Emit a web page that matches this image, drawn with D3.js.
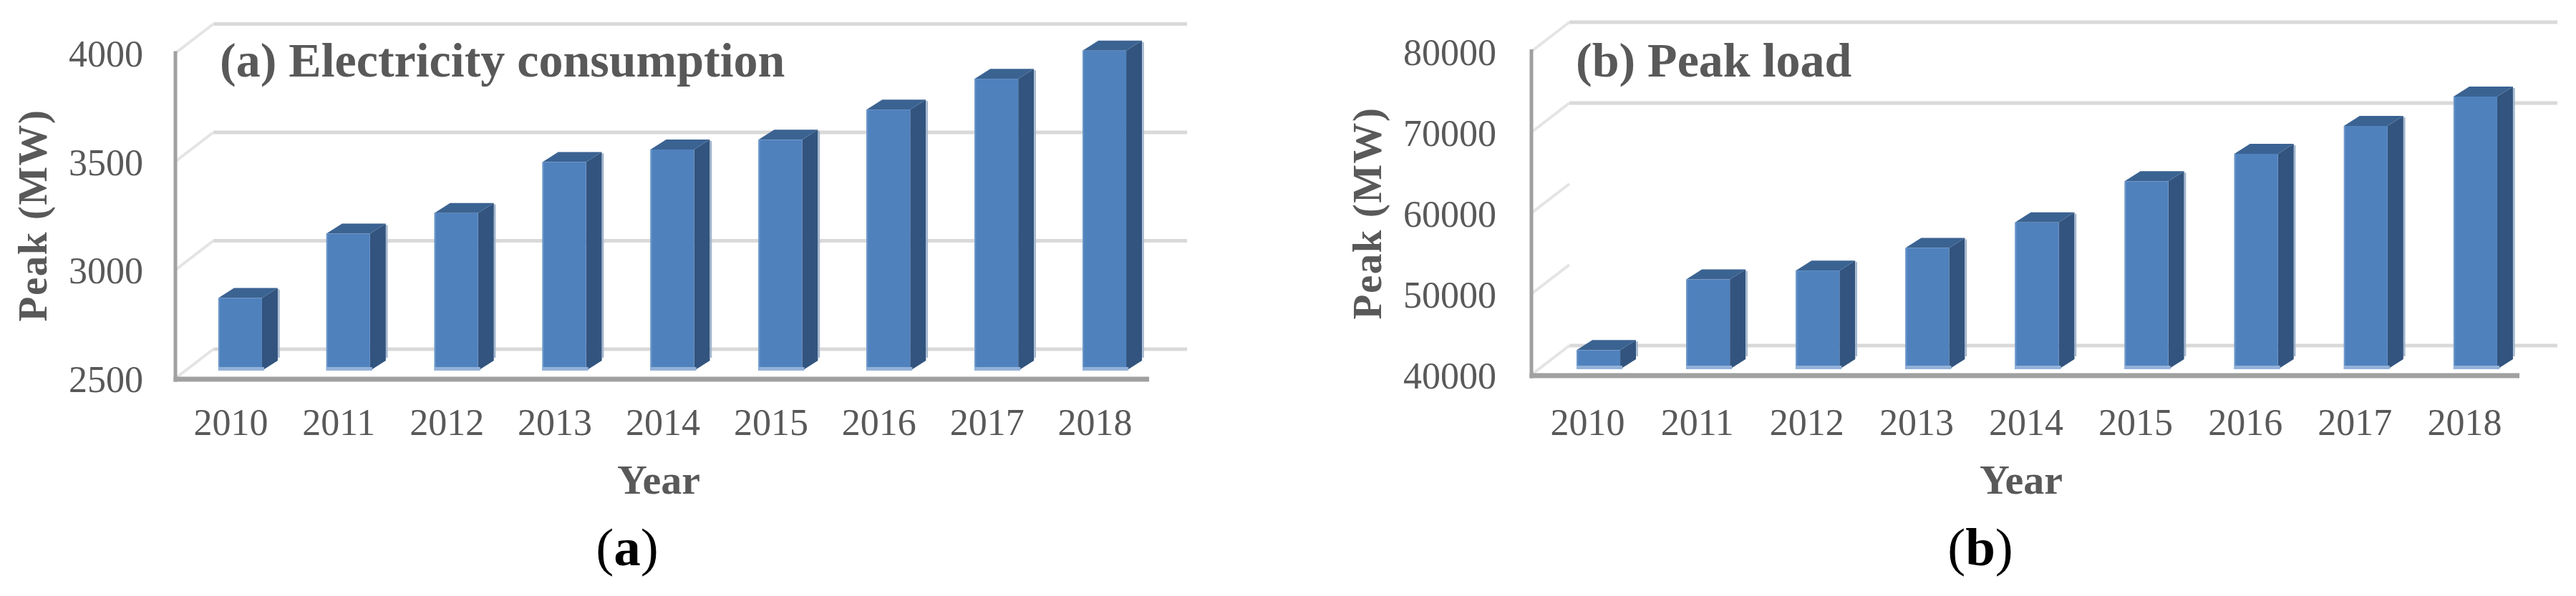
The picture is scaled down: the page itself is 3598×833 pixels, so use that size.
<!DOCTYPE html>
<html><head><meta charset="utf-8">
<script src="https://cdn.jsdelivr.net/npm/d3@7"></script>
<style>body{margin:0;background:#fff} svg{display:block}</style>
</head><body>
<svg id="chart" width="3598" height="833"></svg>
<script>
// ---------- data ----------
const years = ["2010","2011","2012","2013","2014","2015","2016","2017","2018"];
const consumption = [2835, 3132, 3227, 3462, 3520, 3565, 3704, 3846, 3976];
const peakLoad = [42360, 51100, 52200, 55000, 58160, 63250, 66640, 70090, 73720];
const ticksA = [2500, 3000, 3500, 4000];
const ticksB = [40000, 50000, 60000, 70000, 80000];
const gridA = [2500, 3000, 3500, 4000];
const gridB = [40000, 70000, 80000];
const titles = ["(a) Electricity consumption", "(b) Peak load"];
const captions = ["a", "b"];
const yTitle = "Peak (MW)";
const xTitle = "Year";

// ---------- layout ----------
const panels = [
  {values: consumption, ticks: ticksA, grid: gridA, title: titles[0], cap: captions[0],
   x0: 247, x1: 1605, yDom: [2500, 4000], yRange: [530, 75.5], tickX: 200,
   yTitleX: 65, yTitleY: 301, titleX: 307, capX: 876, yearX: 920, barDx: 13, barDy: -12},
  {values: peakLoad, ticks: ticksB, grid: gridB, title: titles[1], cap: captions[1],
   x0: 2141, x1: 3519, yDom: [40000, 80000], yRange: [525, 73], tickX: 2090,
   yTitleX: 1929, yTitleY: 298, titleX: 2201, capX: 2766, yearX: 2823, barDx: 15, barDy: -9}
];
const WALL_DX = 53, WALL_DY = -42;
const BAR_W = 61, SIDE_DX = 22, SIDE_DY = -14;
const TXT = "#595959";
const FONT = "'Liberation Serif', 'Times New Roman', serif";

const svg = d3.select("#chart");
svg.append("rect").attr("width", 3598).attr("height", 833).attr("fill", "#fff");

panels.forEach(p => {
  const g = svg.append("g");
  const x = d3.scaleBand().domain(years).range([p.x0, p.x1]);
  const y = d3.scaleLinear().domain(p.yDom).range(p.yRange);
  const axisX = p.x0 - 2;
  const floorY = p.yRange[0];

  // back-wall gridlines
  g.selectAll(".grid").data(p.grid).join("line")
    .attr("x1", axisX + WALL_DX).attr("x2", p.x1 + WALL_DX)
    .attr("y1", d => y(d) + WALL_DY).attr("y2", d => y(d) + WALL_DY)
    .attr("stroke", "#D9D9D9").attr("stroke-width", 5);

  // side-wall stubs
  g.selectAll(".stub").data(p.ticks).join("line")
    .attr("x1", axisX + 1).attr("y1", d => y(d) - 2)
    .attr("x2", axisX + WALL_DX).attr("y2", d => y(d) + WALL_DY)
    .attr("stroke", "#E4E4E4").attr("stroke-width", 4);

  // bars (3D)
  const bars = g.selectAll(".bar").data(p.values).join("g");
  bars.each(function(v, i) {
    const b = d3.select(this);
    const cx = x(years[i]) + x.bandwidth() / 2 + p.barDx;
    const xl = cx - BAR_W / 2, xr = cx + BAR_W / 2;
    const yb = y(p.yDom[0]) + p.barDy;
    const yt = y(v) + p.barDy;
    // side face
    b.append("path")
      .attr("d", `M${xr},${yt}L${xr + SIDE_DX},${yt + SIDE_DY}L${xr + SIDE_DX},${yb + SIDE_DY}L${xr},${yb}Z`)
      .attr("fill", "#32547E");
    // side highlight
    b.append("line")
      .attr("x1", xr + SIDE_DX + 1.5).attr("x2", xr + SIDE_DX + 1.5)
      .attr("y1", yt + SIDE_DY + 2).attr("y2", yb + SIDE_DY - 4)
      .attr("stroke", "#A3B6CE").attr("stroke-width", 2.5);
    // top face
    b.append("path")
      .attr("d", `M${xl},${yt}L${xl + SIDE_DX},${yt + SIDE_DY}L${xr + SIDE_DX},${yt + SIDE_DY}L${xr},${yt}Z`)
      .attr("fill", "#3B6392");
    // front face
    b.append("rect")
      .attr("x", xl).attr("y", yt).attr("width", BAR_W).attr("height", yb - yt)
      .attr("fill", "#4F81BD");
    b.append("rect")
      .attr("x", xl).attr("y", yt).attr("width", 2).attr("height", yb - yt)
      .attr("fill", "#6B96C9");
    // bottom light strip
    b.append("rect")
      .attr("x", xl).attr("y", yb - 5).attr("width", BAR_W + 3).attr("height", 5)
      .attr("fill", "#93B1D8");
  });

  // axes lines
  g.append("line")
    .attr("x1", axisX).attr("x2", axisX)
    .attr("y1", y(p.yDom[1]) - 4).attr("y2", floorY + 3.5)
    .attr("stroke", "#A0A0A0").attr("stroke-width", 5);
  g.append("line")
    .attr("x1", axisX - 2.5).attr("x2", p.x1)
    .attr("y1", floorY).attr("y2", floorY)
    .attr("stroke", "#A0A0A0").attr("stroke-width", 7);

  // y tick labels
  g.selectAll(".ytick").data(p.ticks).join("text")
    .attr("x", p.tickX).attr("y", d => y(d))
    .attr("text-anchor", "end").attr("dominant-baseline", "central")
    .attr("font-family", FONT).attr("font-size", 52).attr("fill", TXT)
    .text(d => d);

  // x tick labels
  g.selectAll(".xtick").data(years).join("text")
    .attr("x", d => x(d) + x.bandwidth() / 2).attr("y", 608)
    .attr("text-anchor", "middle")
    .attr("font-family", FONT).attr("font-size", 52).attr("fill", TXT)
    .text(d => d);

  // axis titles
  g.append("text")
    .attr("transform", `translate(${p.yTitleX},${p.yTitleY}) rotate(-90)`)
    .attr("text-anchor", "middle")
    .attr("font-family", FONT).attr("font-size", 57).attr("font-weight", "bold")
    .attr("letter-spacing", 1.5).attr("fill", TXT)
    .text(yTitle);
  g.append("text")
    .attr("x", p.yearX).attr("y", 690).attr("text-anchor", "middle")
    .attr("font-family", FONT).attr("font-size", 58).attr("font-weight", "bold")
    .attr("fill", TXT).text(xTitle);

  // chart title
  g.append("text")
    .attr("x", p.titleX).attr("y", 107)
    .attr("font-family", FONT).attr("font-size", 68).attr("font-weight", "bold")
    .attr("fill", TXT).text(p.title);

  // caption
  const c = g.append("text")
    .attr("x", p.capX).attr("y", 790).attr("text-anchor", "middle")
    .attr("font-family", FONT).attr("font-size", 75).attr("fill", "#000");
  c.append("tspan").text("(");
  c.append("tspan").attr("font-weight", "bold").text(p.cap);
  c.append("tspan").text(")");
});
</script>
</body></html>
